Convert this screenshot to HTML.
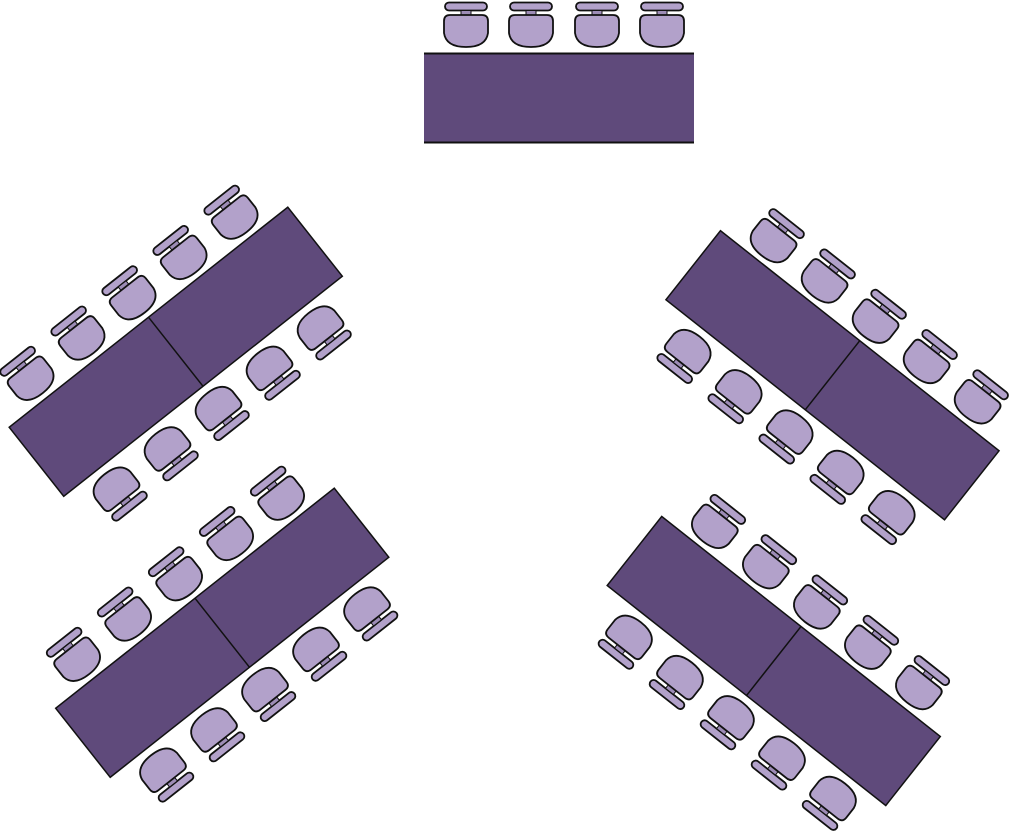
<!DOCTYPE html>
<html><head><style>html,body{margin:0;padding:0;background:#fff;width:1010px;height:832px;overflow:hidden}</style></head>
<body>
<svg width="1010" height="832" viewBox="0 0 1010 832" xmlns="http://www.w3.org/2000/svg">
<defs>
<g id="ch" stroke="#111" stroke-width="1.8" fill="#b2a1ca">
<rect x="-21" y="-22.5" width="42" height="8" rx="4"/>
<rect x="-5" y="-14.5" width="10" height="4.5" fill="#9d8cb6" stroke-width="1"/>
<path d="M-22,-4 Q-22,-10 -16,-10 L16,-10 Q22,-10 22,-4 L22,8 Q20,22 0,22 Q-20,22 -22,8 Z"/>
</g>
<g id="grp">
<rect x="-177.5" y="-44" width="355" height="88" fill="#5f4a7b" stroke="#111" stroke-width="1.5"/>
<line x1="0" y1="-44" x2="0" y2="44" stroke="#111" stroke-width="1.5"/>
<use href="#ch" x="-130" y="-72"/><use href="#ch" x="-65" y="-72"/><use href="#ch" x="0" y="-72"/><use href="#ch" x="65" y="-72"/><use href="#ch" x="130" y="-72"/>
<g transform="rotate(180)">
<use href="#ch" x="132" y="-74"/><use href="#ch" x="67" y="-74"/><use href="#ch" x="2" y="-74"/><use href="#ch" x="-63" y="-74"/><use href="#ch" x="-128" y="-74"/>
</g>
</g>
</defs>
<rect x="424" y="53" width="270" height="90" fill="#5f4a7b"/>
<line x1="424" y1="53.5" x2="694" y2="53.5" stroke="#111" stroke-width="2"/>
<line x1="424" y1="142.5" x2="694" y2="142.5" stroke="#111" stroke-width="2"/>
<use href="#ch" x="466" y="25"/><use href="#ch" x="531" y="25"/><use href="#ch" x="597" y="25"/><use href="#ch" x="662" y="25"/>
<g transform="translate(175.75,351.75) rotate(-38.3)"><use href="#grp"/></g>
<g transform="translate(222.25,632.75) rotate(-38.3)"><use href="#grp"/></g>
<g transform="translate(832.5,375.25) scale(-1,1) rotate(-38.3)"><use href="#grp"/></g>
<g transform="translate(773.75,661) scale(-1,1) rotate(-38.3)"><use href="#grp"/></g>
</svg>
</body></html>
